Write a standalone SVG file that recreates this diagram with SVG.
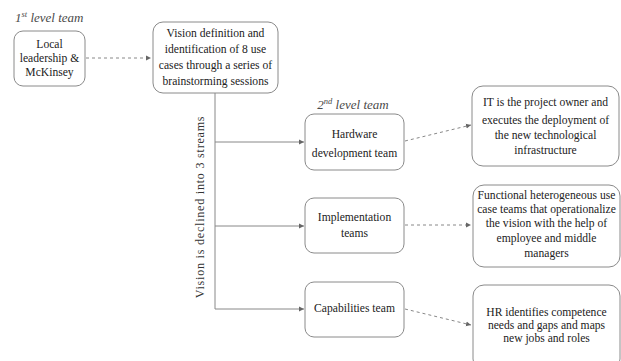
<svg xmlns="http://www.w3.org/2000/svg" width="621" height="361" viewBox="0 0 621 361">
<style>
.box{fill:#fff;stroke:#8a8a8a;stroke-width:1}
.t{font-family:'Liberation Serif','Times New Roman',serif;font-size:11.6px;fill:#222;text-anchor:middle}
.h{font-family:'Liberation Serif','Times New Roman',serif;font-size:13px;font-style:italic;fill:#4a4a4a}
.solid{fill:none;stroke:#888;stroke-width:1}
.dash{fill:none;stroke:#888;stroke-width:1;stroke-dasharray:3,3}
.vt{font-family:'Liberation Serif','Times New Roman',serif;font-size:12px;fill:#333;letter-spacing:0.8px;text-anchor:middle}
</style>
<defs>
<marker id="ah" markerWidth="6" markerHeight="6" refX="5" refY="3" orient="auto" markerUnits="userSpaceOnUse">
<path d="M0,0.5 L5,3 L0,5.5 Z" fill="#666"/>
</marker>
</defs>
<rect width="621" height="361" fill="#fff"/>
<text class="h" x="15" y="22">1<tspan font-size="8.5" dy="-5">st</tspan><tspan dy="5"> level team</tspan></text>
<text class="h" x="353" y="109" text-anchor="middle">2<tspan font-size="8.5" dy="-5">nd</tspan><tspan dy="5"> level team</tspan></text>
<g id="connectors">
<path class="dash" d="M86,58 L151,58" marker-end="url(#ah)"/>
<path class="solid" d="M215,93 L215,309"/>
<path class="solid" d="M215,142 L304,142" marker-end="url(#ah)"/>
<path class="solid" d="M215,226 L304,226" marker-end="url(#ah)"/>
<path class="solid" d="M215,309 L304,309" marker-end="url(#ah)"/>
<path class="dash" d="M405,141 L471,125" marker-end="url(#ah)"/>
<path class="dash" d="M405,225 L471,225" marker-end="url(#ah)"/>
<path class="dash" d="M405,309 L471,325" marker-end="url(#ah)"/>
<text class="vt" transform="translate(204,207) rotate(-90)">Vision is declined into 3 streams</text>
</g>
<g id="local">
<rect class="box" x="14" y="31" width="71" height="55" rx="9"/>
<text class="t" x="49.5" y="48">Local</text>
<text class="t" x="49.5" y="62">leadership &amp;</text>
<text class="t" x="49.5" y="76">McKinsey</text>
</g>
<g id="vision">
<rect class="box" x="153" y="22" width="125" height="71" rx="10"/>
<text class="t" x="215.5" y="37">Vision definition and</text>
<text class="t" x="215.5" y="53">identification of 8 use</text>
<text class="t" x="215.5" y="69">cases through a series of</text>
<text class="t" x="215.5" y="85">brainstorming sessions</text>
</g>
<g id="hardware">
<rect class="box" x="305" y="114" width="99" height="56" rx="9"/>
<text class="t" x="354.5" y="138">Hardware</text>
<text class="t" x="354.5" y="157">development team</text>
</g>
<g id="implementation">
<rect class="box" x="305" y="198" width="99" height="55" rx="9"/>
<text class="t" x="354.5" y="221">Implementation</text>
<text class="t" x="354.5" y="237">teams</text>
</g>
<g id="capabilities">
<rect class="box" x="305" y="282" width="99" height="55" rx="9"/>
<text class="t" x="354.5" y="312">Capabilities team</text>
</g>
<g id="it">
<rect class="box" x="472" y="86" width="147" height="80" rx="11"/>
<text class="t" x="545.5" y="106">IT is the project owner and</text>
<text class="t" x="545.5" y="124">executes the deployment of</text>
<text class="t" x="545.5" y="139">the new technological</text>
<text class="t" x="545.5" y="154">infrastructure</text>
</g>
<g id="functional">
<rect class="box" x="473" y="185" width="147" height="82" rx="11"/>
<text class="t" x="546.5" y="199">Functional heterogeneous use</text>
<text class="t" x="546.5" y="213">case teams that operationalize</text>
<text class="t" x="546.5" y="227">the vision with the help of</text>
<text class="t" x="546.5" y="242">employee and middle</text>
<text class="t" x="546.5" y="257">managers</text>
</g>
<g id="hr">
<rect class="box" x="473" y="285" width="147" height="85" rx="11"/>
<text class="t" x="546.5" y="316">HR identifies competence</text>
<text class="t" x="546.5" y="329">needs and gaps and maps</text>
<text class="t" x="546.5" y="342">new jobs and roles</text>
</g>
</svg>
